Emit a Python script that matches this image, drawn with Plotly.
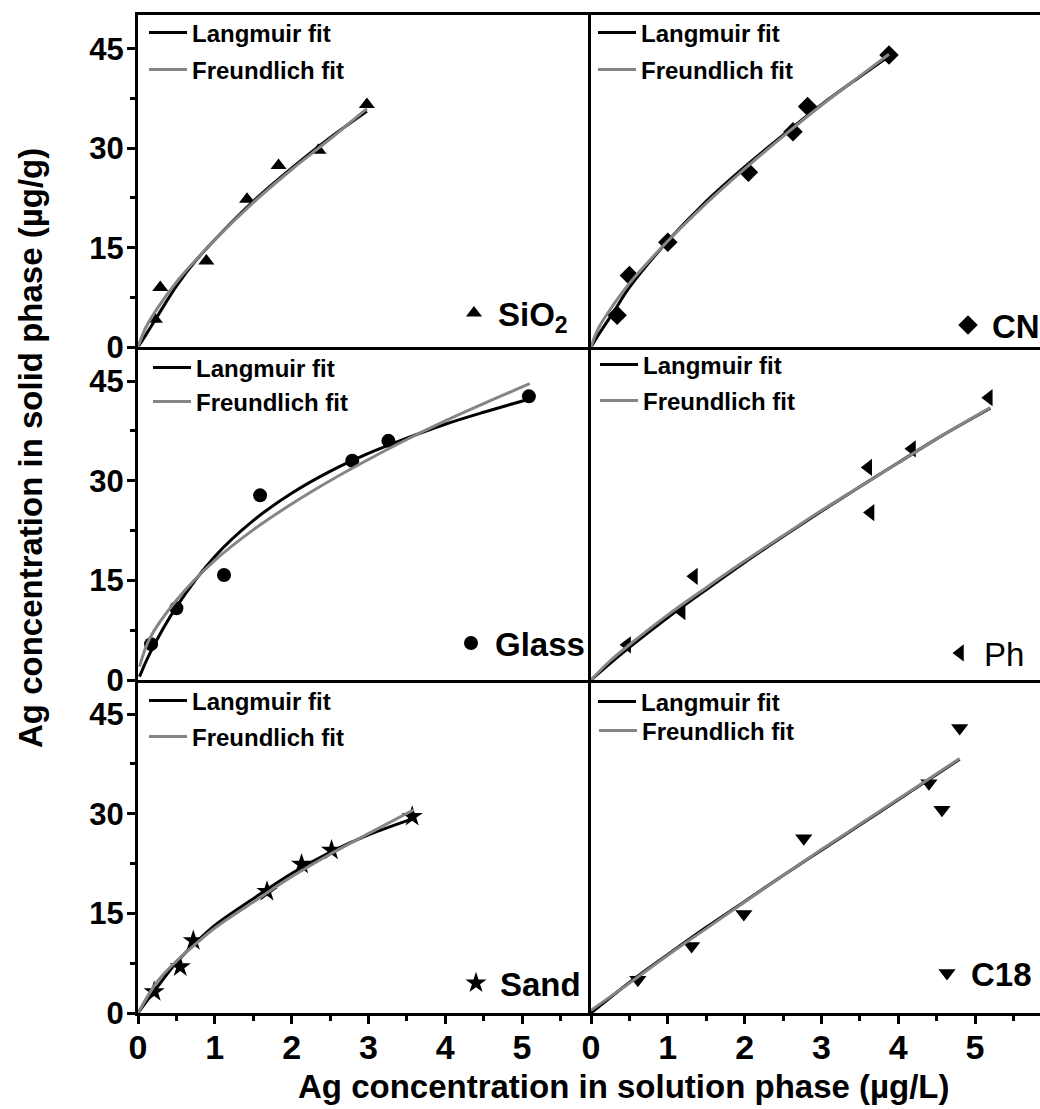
import plotly.graph_objects as go

# ---------------- data ----------------
# SiO2 panel
sio2_x = [0.22, 0.29, 0.89, 1.42, 1.83, 2.35, 2.98]
sio2_y = [4.2, 9.0, 13.0, 22.3, 27.4, 29.7, 36.6]
sio2_fit_x = [0, 0.1, 0.25, 0.5, 0.75, 1.0, 1.5, 2.0, 2.5, 2.98]
sio2_lang = [0, 1.8, 4.6, 9.2, 13.0, 16.2, 22.0, 27.0, 31.6, 35.6]
sio2_freu = [0, 2.9, 5.8, 9.8, 13.1, 16.2, 21.8, 26.8, 31.4, 36.0]

# CN panel
cn_x = [0.34, 0.50, 1.00, 2.05, 2.63, 2.82, 3.88]
cn_y = [4.8, 10.8, 15.8, 26.4, 32.5, 36.3, 44.1]
cn_fit_x = [0, 0.1, 0.3, 0.5, 1.0, 1.5, 2.0, 2.5, 3.0, 3.5, 3.88]
cn_lang = [0, 1.9, 5.4, 9.0, 16.0, 22.0, 27.2, 32.0, 36.6, 40.8, 43.9]
cn_freu = [0, 2.9, 6.5, 9.6, 16.0, 21.7, 26.9, 31.8, 36.5, 40.9, 44.2]

# Glass panel
glass_x = [0.17, 0.50, 1.12, 1.59, 2.79, 3.26, 5.09]
glass_y = [5.4, 10.8, 15.8, 27.8, 33.0, 36.0, 42.7]
glass_fit_x = [0.02, 0.15, 0.5, 1.0, 1.5, 2.0, 2.5, 3.0, 3.5, 4.0, 4.5, 5.1]
glass_lang = [0.5, 3.9, 11.0, 18.6, 24.0, 28.1, 31.4, 34.1, 36.4, 38.5, 40.3, 42.3]
glass_freu = [2.0, 6.2, 12.0, 18.0, 22.6, 26.5, 30.0, 33.2, 36.2, 39.0, 41.6, 44.6]

# Ph panel
ph_x = [0.47, 1.18, 1.34, 3.64, 3.61, 4.18, 5.18]
ph_y = [5.3, 10.3, 15.6, 25.2, 32.0, 34.8, 42.5]
ph_fit_x = [0, 0.25, 0.5, 1.0, 1.5, 2.0, 2.5, 3.0, 3.5, 4.0, 4.5, 5.2]
ph_lang = [0, 2.5, 4.9, 9.4, 13.6, 17.7, 21.6, 25.4, 29.1, 32.7, 36.3, 40.9]
ph_freu = [0, 2.9, 5.3, 9.8, 13.9, 17.9, 21.7, 25.5, 29.1, 32.7, 36.3, 41.0]

# Sand panel
sand_x = [0.21, 0.55, 0.72, 1.68, 2.13, 2.52, 3.57]
sand_y = [3.2, 6.95, 10.9, 18.3, 22.4, 24.5, 29.6]
sand_fit_x = [0, 0.25, 0.5, 0.75, 1.0, 1.5, 2.0, 2.5, 3.0, 3.59]
sand_lang = [0, 3.9, 7.6, 10.6, 13.2, 17.2, 21.0, 24.2, 26.8, 29.3]
sand_freu = [0, 4.7, 7.8, 10.4, 12.8, 16.7, 20.5, 23.9, 27.0, 30.6]

# C18 panel
c18_x = [0.61, 1.31, 1.99, 2.77, 4.40, 4.57, 4.80]
c18_y = [5.0, 10.1, 14.9, 26.3, 34.6, 30.6, 42.9]
c18_fit_x = [0, 0.5, 1.0, 1.5, 2.0, 2.5, 3.0, 3.5, 4.0, 4.5, 4.8]
c18_lang = [0, 4.6, 8.8, 12.9, 16.8, 20.7, 24.5, 28.3, 32.1, 35.9, 38.2]
c18_freu = [0.4, 4.5, 8.7, 12.7, 16.7, 20.7, 24.6, 28.4, 32.2, 36.0, 38.3]

panel_names = ["SiO<sub>2</sub>", "CN", "Glass", "Ph", "Sand", "C18"]
x_tick_labels = ["0", "1", "2", "3", "4", "5"]
y_tick_labels = ["0", "15", "30", "45"]
x_title = "Ag concentration in solution phase (µg/L)"
y_title = "Ag concentration in solid phase (µg/g)"

# ---------------- styling / layout ----------------
W, H = 1040, 1109
FONT = "Liberation Sans, Arial, Helvetica, sans-serif"
GRAY = "#858585"
PX_PER_X = 76.8
LEFT0, MID, RIGHT_END = 138, 591, 1040
ROW_TOP = [15, 347, 680]
ROW_BOT = [347, 680, 1013]
Y_MAX = 50.13

panels = [
    dict(name=panel_names[0], sym="triangle-up", size=14, x=sio2_x, y=sio2_y,
         fx=sio2_fit_x, lang=sio2_lang, freu=sio2_freu, row=0, col=0, bold=True,
         lpos=(144, 33), fpos=(144, 70), npos=(450, 313)),
    dict(name=panel_names[1], sym="diamond", size=15, x=cn_x, y=cn_y,
         fx=cn_fit_x, lang=cn_lang, freu=cn_freu, row=0, col=1, bold=True,
         lpos=(593, 33), fpos=(593, 70), npos=(944, 325)),
    dict(name=panel_names[2], sym="circle", size=14, x=glass_x, y=glass_y,
         fx=glass_fit_x, lang=glass_lang, freu=glass_freu, row=1, col=0, bold=True,
         lpos=(148, 368), fpos=(148, 402), npos=(447, 643)),
    dict(name=panel_names[3], sym="triangle-left", size=15, x=ph_x, y=ph_y,
         fx=ph_fit_x, lang=ph_lang, freu=ph_freu, row=1, col=1, bold=False,
         lpos=(595, 365), fpos=(595, 401), npos=(936, 653)),
    dict(name=panel_names[4], sym="star", size=16, x=sand_x, y=sand_y,
         fx=sand_fit_x, lang=sand_lang, freu=sand_freu, row=2, col=0, bold=True,
         lpos=(144, 701), fpos=(144, 737), npos=(452, 983)),
    dict(name=panel_names[5], sym="triangle-down", size=15, x=c18_x, y=c18_y,
         fx=c18_fit_x, lang=c18_lang, freu=c18_freu, row=2, col=1, bold=True,
         lpos=(593, 702), fpos=(594, 731), npos=(923, 973)),
]

fig = go.Figure()
layout = dict(
    width=W, height=H,
    margin=dict(l=0, r=0, t=0, b=0, autoexpand=False),
    paper_bgcolor="white", plot_bgcolor="white",
    font=dict(family=FONT, color="black"),
    showlegend=True,
    annotations=[],
)

leg_count = [0]


def new_legend(px, py, size, bold):
    leg_count[0] += 1
    lid = "legend" if leg_count[0] == 1 else f"legend{leg_count[0]}"
    layout[lid] = dict(
        x=px / W, y=1 - py / H, xanchor="left", yanchor="middle",
        xref="paper", yref="paper", visible=True,
        bgcolor="rgba(0,0,0,0)", borderwidth=0, itemwidth=38,
        font=dict(family=FONT, size=size, color="black",
                  weight="bold" if bold else "normal"),
        itemclick=False, itemdoubleclick=False,
    )
    return lid


x_tick_font = dict(family=FONT, size=34, color="black", weight="bold")
y_tick_font = dict(family=FONT, size=31, color="black", weight="bold")

for i, p in enumerate(panels):
    sfx = "" if i == 0 else str(i + 1)
    xa, ya = "x" + sfx, "y" + sfx
    r, c = p["row"], p["col"]

    if c == 0:
        xdom = [LEFT0 / W, MID / W]
        xr = [0, (MID - LEFT0) / PX_PER_X]
    else:
        xdom = [MID / W, 1.0]
        xr = [0, (RIGHT_END - MID) / PX_PER_X]
    ydom = [1 - ROW_BOT[r] / H, 1 - ROW_TOP[r] / H]

    bottom = r == 2
    layout["xaxis" + sfx] = dict(
        domain=xdom, range=xr, anchor=ya,
        showline=True, linecolor="black", linewidth=3, mirror=(r == 0),
        showgrid=False, zeroline=False,
        tickmode="array", tickvals=[float(t) for t in x_tick_labels],
        ticktext=x_tick_labels,
        ticks="outside" if bottom else "", ticklen=8, tickwidth=2.5, tickcolor="black",
        showticklabels=bottom, tickfont=x_tick_font, ticklabelstandoff=-6,
        minor=dict(dtick=0.5, tick0=0, ticks="outside" if bottom else "",
                   ticklen=5, tickwidth=2.5, tickcolor="black", showgrid=False),
    )
    layout["yaxis" + sfx] = dict(
        domain=ydom, range=[0, Y_MAX], anchor=xa,
        showline=True, linecolor="black", linewidth=3, mirror=False,
        showgrid=False, zeroline=False,
        tickmode="array", tickvals=[float(t) for t in y_tick_labels],
        ticktext=y_tick_labels,
        ticks="outside" if c == 0 else "", ticklen=8, tickwidth=2.5, tickcolor="black",
        showticklabels=(c == 0), tickfont=y_tick_font, ticklabelstandoff=-3,
        minor=dict(dtick=7.5, tick0=0, ticks="outside" if c == 0 else "",
                   ticklen=5, tickwidth=2.5, tickcolor="black", showgrid=False),
    )

    lab_leg = new_legend(p["npos"][0], p["npos"][1], 33, p["bold"])
    lang_leg = new_legend(p["lpos"][0], p["lpos"][1], 24, True)
    freu_leg = new_legend(p["fpos"][0], p["fpos"][1], 24, True)

    fig.add_trace(go.Scatter(
        x=p["x"], y=p["y"], mode="markers", name=p["name"],
        marker=dict(symbol=p["sym"], size=p["size"], color="black",
                    line=dict(width=0)),
        xaxis=xa, yaxis=ya, legend=lab_leg, cliponaxis=False, showlegend=True,
    ))
    fig.add_trace(go.Scatter(
        x=p["fx"], y=p["lang"], mode="lines", name="Langmuir fit",
        line=dict(color="black", width=3, shape="spline"),
        xaxis=xa, yaxis=ya, legend=lang_leg, showlegend=True,
    ))
    fig.add_trace(go.Scatter(
        x=p["fx"], y=p["freu"], mode="lines", name="Freundlich fit",
        line=dict(color=GRAY, width=3, shape="spline"),
        xaxis=xa, yaxis=ya, legend=freu_leg, showlegend=True,
    ))

layout["annotations"] = [
    dict(text=x_title, x=624 / W, y=1 - 1086 / H, xref="paper", yref="paper",
         xanchor="center", yanchor="middle", showarrow=False,
         font=dict(family=FONT, size=33, color="black", weight="bold")),
    dict(text=y_title, x=30 / W, y=1 - 448 / H, xref="paper", yref="paper",
         xanchor="center", yanchor="middle", showarrow=False, textangle=-90,
         font=dict(family=FONT, size=33, color="black", weight="bold")),
]

fig.update_layout(**layout)
fig.write_html("out.html")
